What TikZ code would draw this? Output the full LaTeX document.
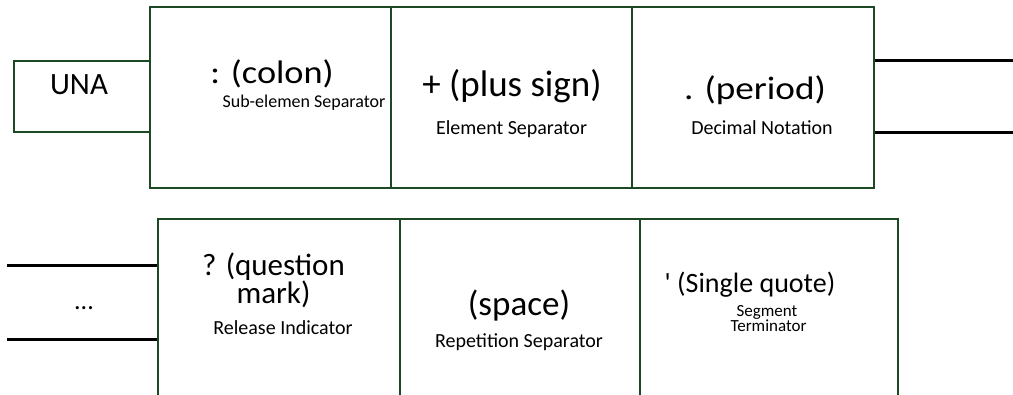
\documentclass[tikz,border=0pt]{standalone}
\usepackage{fontspec}
\setmainfont{Carlito}
\usepackage{graphicx}
\definecolor{boxgreen}{RGB}{28,72,36}
\begin{document}
\begin{tikzpicture}[x=1pt,y=-1pt,
  box/.style={draw=boxgreen,line width=1.4pt,inner sep=0pt,rectangle},
  wire/.style={line width=3pt,black},
  txt/.style={anchor=base,inner sep=0pt},
  big/.style={txt,font=\fontsize{#1}{#1}\selectfont},
  small/.style={txt,font=\fontsize{20}{20}\selectfont}]
\useasboundingbox (0,0) rectangle (1013,395);
\clip (0,0) rectangle (1013,395);
% top row
\node[box,minimum width=136pt,minimum height=71pt] (una) at (82,96.5) {};
\node[box,minimum width=241pt,minimum height=181pt] (p1) at (270.5,97.5) {};
\node[box,minimum width=241pt,minimum height=181pt] (p2) at (511.5,97.5) {};
\node[box,minimum width=242pt,minimum height=181pt] (p3) at (753,97.5) {};
\coordinate (r1) at (1013,61);
\coordinate (r2) at (1013,133);
\draw[wire] (p3.east |- r1) -- (r1);
\draw[wire] (p3.east |- r2) -- (r2);
% bottom row
\node[box,minimum width=242pt,minimum height=221pt] (q1) at (279,329.5) {};
\node[box,minimum width=240pt,minimum height=221pt] (q2) at (520,329.5) {};
\node[box,minimum width=258pt,minimum height=221pt] (q3) at (769,329.5) {};
\coordinate (l1) at (7,266);
\coordinate (l2) at (7,340);
\draw[wire] (l1) -- (q1.west |- l1);
\draw[wire] (l2) -- (q1.west |- l2);
% texts
\node[big=31] (tuna) at (79,95) {UNA};
\node[big=31] (tcolon) at (272,84) {\scalebox{1.17}[1.05]{: (colon)}};
\node[txt,font=\fontsize{18}{18}\selectfont] (tsub) at (304,108) {Sub-elemen Separator};
\node[big=37] (tplus) at (512,97) {+ (plus sign)};
\node[small] (telem) at (511.5,135) {Element Separator};
\node[big=31] (tperiod) at (755,100) {\scalebox{1.2}[1.05]{. (period)}};
\node[small] (tdec) at (762,135) {Decimal Notation};
\node[big=26] (tdots) at (84,310) {...};
\node[txt,align=center,font=\fontsize{31}{28}\selectfont] (tq) at (273.5,304) {? (question\\mark)};
\node[small] (trel) at (283,335) {Release Indicator};
\node[big=35] (tspace) at (519,316) {(space)};
\node[small] (trep) at (519,348) {Repetition Separator};
\node[big=28] (tsq) at (750,293) {\textquotesingle{} (Single quote)};
\node[txt,font=\fontsize{17}{17}\selectfont] (tseg) at (767,317) {Segment};
\node[txt,font=\fontsize{17}{17}\selectfont] (tterm) at (768.5,332) {Terminator};
\end{tikzpicture}
\end{document}
